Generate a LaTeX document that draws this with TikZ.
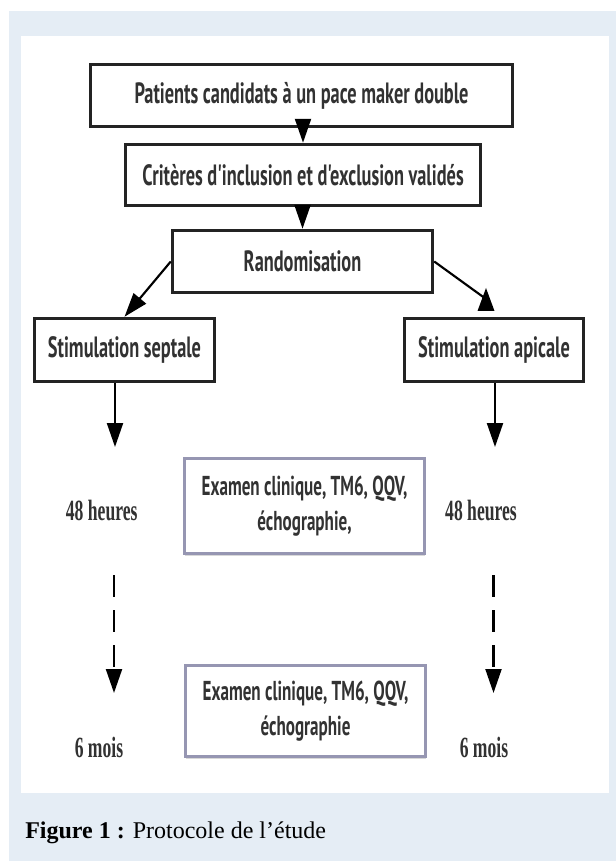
\documentclass[tikz,border=0pt]{standalone}
\usepackage{fontspec}
\setmainfont{Liberation Serif}
\newfontfamily\boxfont[FakeStretch=0.625]{PT Sans}
\newfontfamily\timefont[FakeStretch=0.6]{Liberation Serif}
\usetikzlibrary{arrows.meta,shadows}

\definecolor{bgblue}{RGB}{229,237,245}
\definecolor{boxline}{RGB}{35,35,35}
\definecolor{examline}{RGB}{150,150,178}
\definecolor{boxtext}{RGB}{50,50,50}

\tikzset{
  boxsize/.style 2 args={minimum width=#1*0.75pt, minimum height=#2*0.75pt},
  box/.style={draw=boxline, line width=2.6pt, inner sep=0pt, text=boxtext,
    font=\boxfont\bfseries\fontsize{22}{24}\selectfont},
  exambox/.style={draw=examline, line width=2pt, fill=white, inner sep=0pt, align=center,
    text=boxtext, font=\boxfont\bfseries\fontsize{20.5}{26}\selectfont,
    drop shadow={shadow xshift=0.5pt, shadow yshift=-2pt, opacity=0.3}},
  period/.style={inner sep=0pt, text=boxtext, font=\timefont\bfseries\fontsize{22}{24}\selectfont},
  arr/.style={line width=1.6pt, -{Triangle[length=18pt, width=12pt]}},
  dasharr/.style={arr, dash pattern=on 16.5pt off 9.75pt},
}

\begin{document}
\begin{tikzpicture}[x=0.75pt, y=-0.75pt]

    \useasboundingbox (0,0) rectangle (616,862);
    \fill[bgblue] (9,11) rectangle (616,861);
    \fill[white] (20.7,35.7) rectangle (608.7,792.7);

    % main chain
    \node (patients) at ( 301.5, 95.5 ) [box, boxsize={422}{62}] {Patients candidats à un pace maker double};
    \node (criteres) at ( 303, 175 ) [box, boxsize={355}{61}] {Critères d'inclusion et d'exclusion validés};
    \node (random)   at ( 302.5, 261.5 ) [box, boxsize={260}{62}] {Randomisation};

    \draw[arr] (patients.south -| criteres.north) -- (criteres.north);
    \draw[arr] (criteres.south -| random.north) -- (random.north);

    % the two arms
    \node (septal) at ( 124.5, 350 ) [box, boxsize={180}{63}] {Stimulation septale};
    \node (apical) at ( 494, 350 ) [box, boxsize={179}{63}] {Stimulation apicale};

    \draw[arr] (random.west) -- (septal.north);
    \coordinate (aptip) at ( 486, 299 );
    \draw[line width=1.6pt] (random.east) -- (aptip);
    \fill (aptip) ++(0,-11) -- ++(8.5,23) -- ++(-17,0) -- cycle;

    % 48 heures
    \coordinate (sepend) at ( 115, 447 );
    \coordinate (apend)  at ( 495, 447 );
    \draw[arr] (septal.south -| sepend) -- (sepend);
    \draw[arr] (apical.south -| apend) -- (apend);

    \node (h48l)  at ( 101.7, 510 ) [period] {48 heures};
    \node (h48r)  at ( 481, 510 ) [period] {48 heures};
    \node (exam1) at ( 304.5, 506 ) [exambox, boxsize={240}{95}] {Examen clinique, TM6, QQV,\\échographie,};

    % 6 mois
    \coordinate (sepdash) at ( 114, 575 );
    \coordinate (sepmois) at ( 114, 693 );
    \coordinate (apdash)  at ( 493.5, 575 );
    \coordinate (apmois)  at ( 493.5, 693 );
    \draw[dasharr] (sepdash) -- (sepmois);
    \draw[dasharr] (apdash) -- (apmois);

    \node (m6l)   at ( 99, 747 ) [period] {6 mois};
    \node (m6r)   at ( 484, 747 ) [period] {6 mois};
    \node (exam2) at ( 305.5, 711 ) [exambox, boxsize={240}{91}] {Examen clinique, TM6, QQV,\\échographie};

    \node (caption) at ( 25, 838 ) [anchor=base west, inner sep=0pt, font=\fontsize{18}{20}\selectfont]
      {\textbf{Figure 1 :} Protocole de l’étude};

\end{tikzpicture}
\end{document}
